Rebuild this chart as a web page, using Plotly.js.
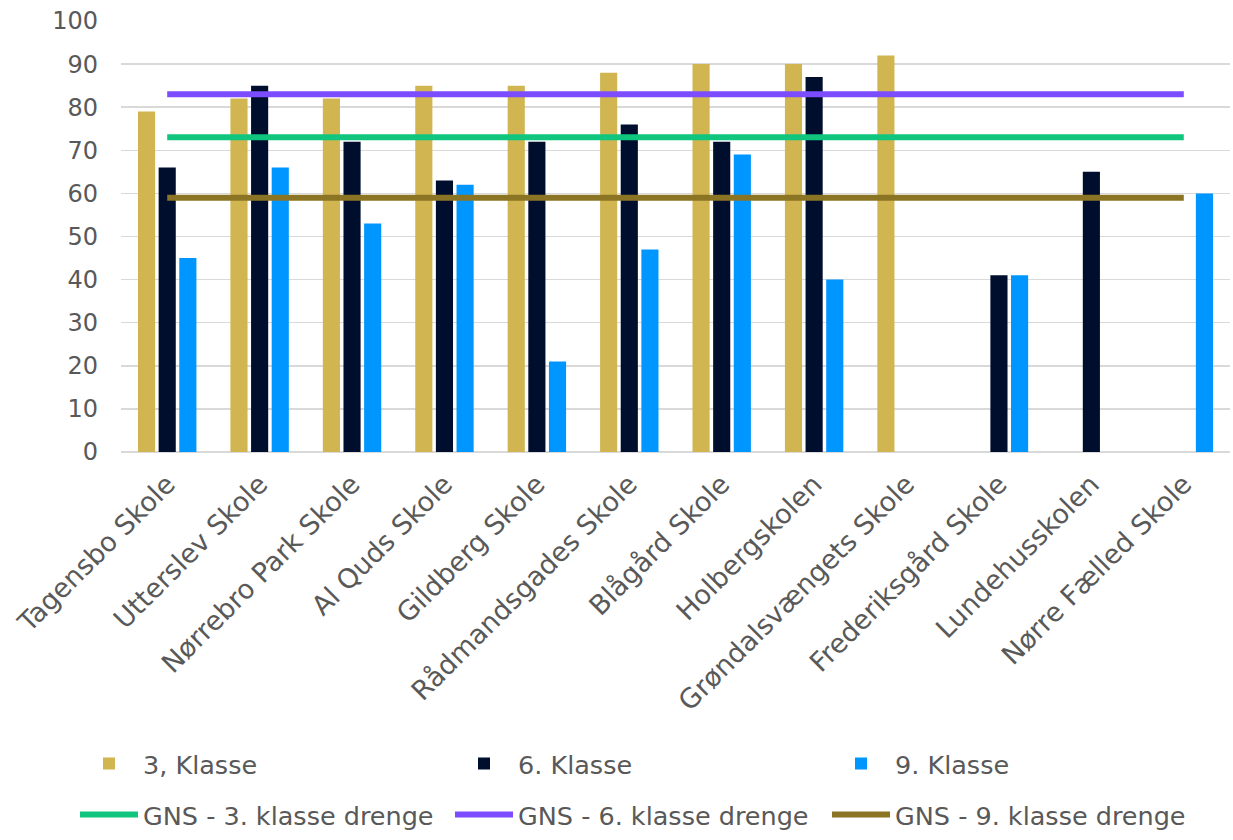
<!DOCTYPE html>
<html>
<head>
<meta charset="utf-8">
<script src="https://cdn.plot.ly/plotly-3.0.1.min.js"></script>
<style>html,body{margin:0;padding:0;background:#fff;}#chart{width:1233px;height:840px;}</style>
</head>
<body>
<div id="chart"></div>
<script>
// Categories (schools)
const schools = [
  "Tagensbo Skole", "Utterslev Skole", "Nørrebro Park Skole", "Al Quds Skole",
  "Gildberg Skole", "Rådmandsgades Skole", "Blågård Skole", "Holbergskolen",
  "Grøndalsvængets Skole", "Frederiksgård Skole", "Lundehusskolen", "Nørre Fælled Skole"
];
// Bar series
const klasse3 = [79, 82, 82, 85, 85, 88, 90, 90, 92, null, null, null];
const klasse6 = [66, 85, 72, 63, 72, 76, 72, 87, null, 41, 65, null];
const klasse9 = [45, 66, 53, 62, 21, 47, 69, 40, null, 41, null, 60];
// Average lines (GNS)
const gns3 = [73, 73, 73, 73, 73, 73, 73, 73, 73, 73, 73, 73];
const gns6 = [83, 83, 83, 83, 83, 83, 83, 83, 83, 83, 83, 83];
const gns9 = [59, 59, 59, 59, 59, 59, 59, 59, 59, 59, 59, 59];
// Labels
const names = ["3, Klasse", "6. Klasse", "9. Klasse",
  "GNS - 3. klasse drenge", "GNS - 6. klasse drenge", "GNS - 9. klasse drenge"];
const yTicks = [0, 10, 20, 30, 40, 50, 60, 70, 80, 90, 100];

const colors = ["#D1B551", "#000E2E", "#0096FF", "#10C67F", "#7B4DFF", "#8B7424"];
const W = 1233, H = 840;
const FONT = "DejaVu Sans, sans-serif";

function bar(y, i, lg) {
  return {type: "bar", x: schools, y: y, name: names[i], legend: lg,
    marker: {color: colors[i], line: {width: 0}}, hoverinfo: "skip"};
}
function line(y, i, lg) {
  return {type: "scatter", mode: "lines", x: schools, y: y, name: names[i], legend: lg,
    line: {color: colors[i], width: 6}, hoverinfo: "skip"};
}

const data = [
  bar(klasse3, 0, "legend"), bar(klasse6, 1, "legend2"), bar(klasse9, 2, "legend3"),
  line(gns3, 3, "legend4"), line(gns6, 4, "legend5"), line(gns9, 5, "legend6")
];

const legFont = {family: FONT, size: 25.5, color: "#595959"};
function leg(px, py) {
  return {xref: "container", yref: "container", x: px / W, y: 1 - py / H,
    xanchor: "left", yanchor: "middle", orientation: "h", font: legFont,
    itemwidth: 58, bgcolor: "rgba(0,0,0,0)", borderwidth: 0, itemclick: false};
}

const layout = {
  width: W, height: H,
  margin: {l: 121, r: 3, t: 21, b: 388},
  paper_bgcolor: "#fff", plot_bgcolor: "#fff",
  barmode: "group", bargap: 0.33, bargroupgap: 0.17,
  showlegend: true,
  font: {family: FONT, color: "#595959"},
  xaxis: {
    type: "category", tickangle: -45, showgrid: false, zeroline: false, showline: false,
    ticks: "", tickfont: {family: FONT, size: 27, color: "#595959"},
    ticklabelstandoff: 10
  },
  yaxis: {
    range: [0, 100], tickvals: yTicks, showgrid: true, gridcolor: "#D9D9D9", gridwidth: 1.5,
    zeroline: true, zerolinecolor: "#D9D9D9", zerolinewidth: 1.5, showline: false, ticks: "",
    tickfont: {family: FONT, size: 24, color: "#595959"},
    ticklabelstandoff: 22
  },
  legend: leg(75, 764), legend2: leg(450, 764), legend3: leg(827, 764),
  legend4: leg(75, 815), legend5: leg(450, 815), legend6: leg(827, 815),
  hovermode: false
};

Plotly.newPlot("chart", data, layout, {displayModeBar: false, staticPlot: true});
</script>
</body>
</html>
